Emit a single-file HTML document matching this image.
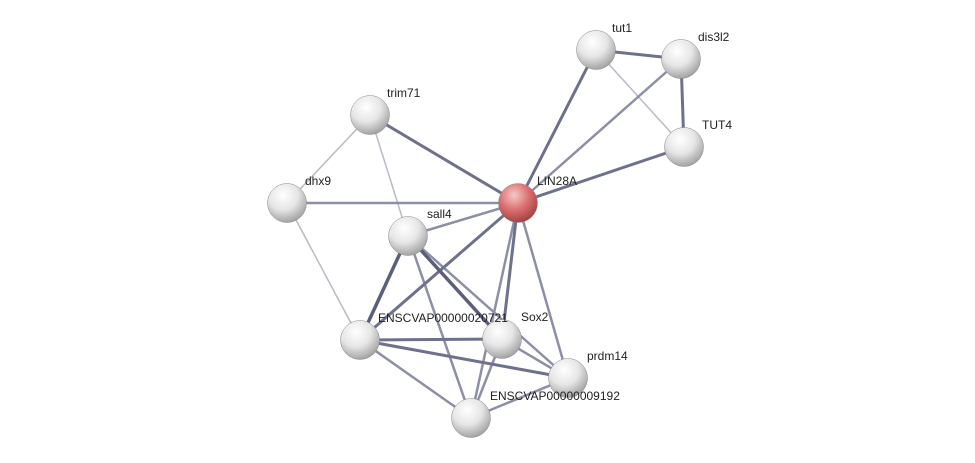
<!DOCTYPE html>
<html><head><meta charset="utf-8"><style>
html,body{margin:0;padding:0;background:#fff;}
svg{display:block;}
text{font-family:"Liberation Sans",sans-serif;font-size:12px;fill:#222;}
</style></head><body>
<svg width="975" height="463" viewBox="0 0 975 463" xmlns="http://www.w3.org/2000/svg">
<defs>
<radialGradient id="g" cx="0.4" cy="0.3" r="0.75">
<stop offset="0" stop-color="#ffffff"/><stop offset="0.5" stop-color="#e6e6e6"/><stop offset="1" stop-color="#9a9a9a"/>
</radialGradient>
<radialGradient id="r" cx="0.4" cy="0.3" r="0.75">
<stop offset="0" stop-color="#f6c8c8"/><stop offset="0.5" stop-color="#dc7070"/><stop offset="1" stop-color="#9c3c3c"/>
</radialGradient>
</defs>
<g stroke-linecap="round">
<g stroke="#b8bac6" stroke-width="1.5">
<line x1="596" y1="50" x2="684" y2="147"/>
<line x1="370" y1="115" x2="287" y2="203"/>
<line x1="370" y1="115" x2="408" y2="236"/>
<line x1="287" y1="203" x2="360" y2="340"/>
</g>
<g stroke="#8c8fa6" stroke-width="2.5">
<line x1="681" y1="59" x2="518" y2="203"/>
<line x1="287" y1="203" x2="518" y2="203"/>
<line x1="408" y1="236" x2="518" y2="203"/>
<line x1="518" y1="203" x2="568" y2="378"/>
<line x1="518" y1="203" x2="471" y2="418"/>
<line x1="408" y1="236" x2="568" y2="378"/>
<line x1="408" y1="236" x2="471" y2="418"/>
<line x1="360" y1="340" x2="471" y2="418"/>
<line x1="502" y1="339" x2="568" y2="378"/>
<line x1="502" y1="339" x2="471" y2="418"/>
<line x1="471" y1="418" x2="568" y2="378"/>
</g>
<g stroke="#6e718c" stroke-width="3">
<line x1="596" y1="50" x2="681" y2="59"/>
<line x1="681" y1="59" x2="684" y2="147"/>
<line x1="596" y1="50" x2="518" y2="203"/>
<line x1="684" y1="147" x2="518" y2="203"/>
<line x1="370" y1="115" x2="518" y2="203"/>
<line x1="518" y1="203" x2="360" y2="340"/>
<line x1="518" y1="203" x2="502" y2="339"/>
<line x1="360" y1="340" x2="502" y2="339"/>
<line x1="360" y1="340" x2="568" y2="378"/>
</g>
<g stroke="#5c5f7a" stroke-width="3.5">
<line x1="408" y1="236" x2="360" y2="340"/>
<line x1="408" y1="236" x2="502" y2="339"/>
</g>
</g>
<g stroke="#888" stroke-width="0.5">
<circle cx="596" cy="50" r="19.5" fill="url(#g)"/>
<circle cx="681" cy="59" r="19.5" fill="url(#g)"/>
<circle cx="684" cy="147" r="19.5" fill="url(#g)"/>
<circle cx="370" cy="115" r="19.5" fill="url(#g)"/>
<circle cx="287" cy="203" r="19.5" fill="url(#g)"/>
<circle cx="408" cy="236" r="19.5" fill="url(#g)"/>
<circle cx="360" cy="340" r="19.5" fill="url(#g)"/>
<circle cx="502" cy="339" r="19.5" fill="url(#g)"/>
<circle cx="568" cy="378" r="19.5" fill="url(#g)"/>
<circle cx="471" cy="418" r="19.5" fill="url(#g)"/>
<circle cx="518" cy="203" r="19.5" fill="url(#r)"/>
</g>
<text x="612" y="32">tut1</text>
<text x="698" y="41">dis3l2</text>
<text x="702" y="129">TUT4</text>
<text x="387" y="97">trim71</text>
<text x="305" y="185">dhx9</text>
<text x="537" y="185">LIN28A</text>
<text x="427" y="218">sall4</text>
<text x="378" y="322">ENSCVAP00000020721</text>
<text x="521" y="321">Sox2</text>
<text x="587" y="360">prdm14</text>
<text x="490" y="400">ENSCVAP00000009192</text>
</svg>
</body></html>
